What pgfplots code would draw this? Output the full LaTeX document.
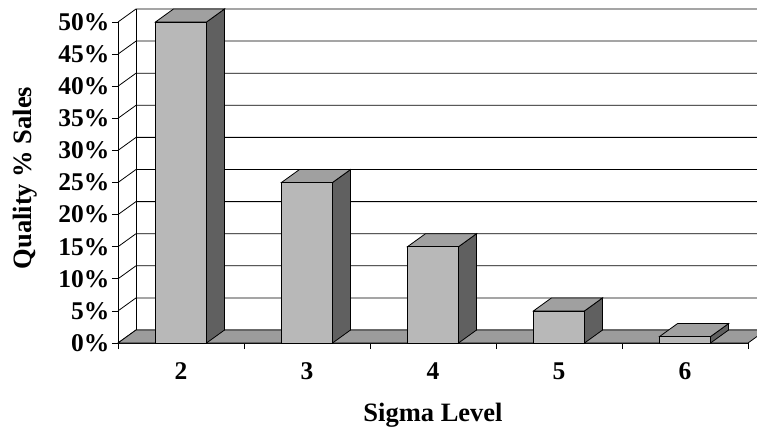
\documentclass[border=0pt]{standalone}
\usepackage{fontspec}
\setmainfont{Liberation Serif}
\usepackage{pgfplots}
\pgfplotsset{compat=1.18}
\definecolor{barfront}{HTML}{B8B8B8}
\definecolor{bartop}{HTML}{A0A0A0}
\definecolor{barside}{HTML}{606060}
\definecolor{floorc}{HTML}{9C9C9C}
\begin{document}
\begin{tikzpicture}
\def\dx{0.143}
\def\dy{2.025}
\def\hw{0.2025}
\begin{axis}[
  x=126pt, y=6.42pt,
  xmin=0, xmax=5, ymin=0, ymax=50,
  enlargelimits=false, clip=false,
  axis x line=bottom, axis y line=left,
  axis line style={-, line width=0.8pt},
  tick align=outside,
  ytick={0,5,...,50},
  yticklabel={\pgfmathparse{int(\tick)}\pgfmathresult\%},
  major tick length=6pt,
  tick style={black, line width=0.8pt},
  xtick={0,1,2,3,4,5},
  xticklabels={2,3,4,5,6,{}},
  xticklabel style={xshift=63pt, yshift=-10pt},
  yticklabel style={xshift=1pt},
  ticklabel style={font=\fontsize{25.5}{29}\selectfont\bfseries},
  xlabel={Sigma Level}, ylabel={Quality \% Sales},
  label style={font=\fontsize{26.5}{31}\selectfont\bfseries},
  xlabel style={at={(axis cs:2.5,-12.15)}, anchor=base},
  ylabel style={at={(axis cs:-0.738,25.7)}, anchor=center},
]
% walls and grid
\foreach \k in {0,5,...,50}{
  \pgfmathsetmacro\kb{\k+\dy}
  \edef\tmp{\noexpand\draw[black, line width=0.8pt] (axis cs:0,\k) -- (axis cs:\dx,\kb) -- (axis cs:5.3,\kb);}
  \tmp
}
\draw[black, line width=0.8pt] (axis cs:\dx,\dy) -- (axis cs:\dx,52.025);
% floor
\addplot[fill=floorc, draw=black, line width=0.8pt] coordinates {(0,0) (5,0) (5.143,2.025) (0.143,2.025)} --cycle;
% bars: category centre / value (%)
\foreach \c/\v in {0.5/50, 1.5/25, 2.5/15, 3.5/5, 4.5/1}{
  \pgfmathsetmacro\xa{\c-\hw}
  \pgfmathsetmacro\xb{\c+\hw}
  \pgfmathsetmacro\xc{\c-\hw+\dx}
  \pgfmathsetmacro\xd{\c+\hw+\dx}
  \pgfmathsetmacro\vt{\v+\dy}
  \edef\tmp{%
    \noexpand\addplot[fill=barside, draw=black, line width=0.8pt] coordinates {(\xb,0) (\xd,\dy) (\xd,\vt) (\xb,\v)} --cycle;
    \noexpand\addplot[fill=bartop, draw=black, line width=0.8pt] coordinates {(\xa,\v) (\xb,\v) (\xd,\vt) (\xc,\vt)} --cycle;
    \noexpand\addplot[fill=barfront, draw=black, line width=0.8pt] coordinates {(\xa,0) (\xb,0) (\xb,\v) (\xa,\v)} --cycle;
  }%
  \tmp
}
\coordinate (bbl) at (axis cs:-0.9365,-13.24);
\coordinate (btr) at (axis cs:5.0714,53.427);
\end{axis}
\pgfresetboundingbox
\useasboundingbox (bbl) rectangle (btr);
\end{tikzpicture}
\end{document}
